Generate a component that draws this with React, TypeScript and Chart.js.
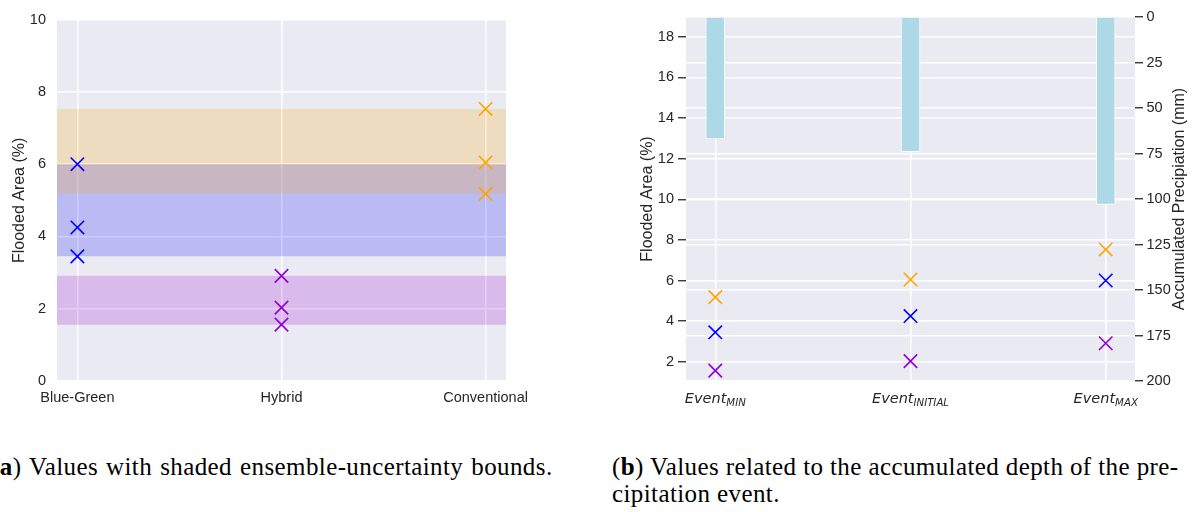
import React, { useEffect, useRef } from 'react';
import { Chart, registerables } from 'chart.js';

Chart.register(...registerables);

// ---------------- data ----------------
const designs = ['Blue-Green', 'Hybrid', 'Conventional'];
const eventSubs = ['MIN', 'INITIAL', 'MAX'];
// Flooded area (%) for Event MIN, Event INITIAL, Event MAX
const blueGreenArea = [3.45, 4.25, 6.0];
const hybridArea = [1.56, 2.03, 2.91];
const conventionalArea = [5.18, 6.05, 7.53];
// Accumulated precipitation (mm) for Event MIN, INITIAL, MAX
const precipitation = [67, 74, 103];

const ticksA = [0, 2, 4, 6, 8, 10];
const ticksBLeft = [2, 4, 6, 8, 10, 12, 14, 16, 18];
const ticksBRight = [0, 25, 50, 75, 100, 125, 150, 175, 200];

// ---------------- styles ----------------
const BG = '#EAEAF2';
const TXT = '#262626';
const SANS = '"Liberation Sans", Arial, sans-serif';
const C_BLUE = '#0000FF';
const C_PURPLE = '#9400D3';
const C_ORANGE = '#FFA500';
const tickFont = { family: SANS, size: 14.5 };
const titleFont = { family: SANS, size: 16 };

const A_XMIN = -0.1;
const A_XMAX = 2.1;

const series = [
  { values: blueGreenArea, color: C_BLUE, band: 'rgba(0,0,255,0.2)' },
  { values: hybridArea, color: C_PURPLE, band: 'rgba(148,0,211,0.2)' },
  { values: conventionalArea, color: C_ORANGE, band: 'rgba(255,165,0,0.2)' },
];

const bgPlugin = {
  id: 'plotBg',
  beforeDraw(chart: any) {
    const { ctx, chartArea: a } = chart;
    ctx.save();
    ctx.fillStyle = BG;
    ctx.fillRect(a.left, a.top, a.right - a.left, a.bottom - a.top);
    ctx.restore();
  },
};

const fixedTicks = (arr: number[]) => (s: any) => {
  s.ticks = arr.map((v) => ({ value: v }));
};

function configA(): any {
  const pointSets = series.map((s, i) => ({
    type: 'scatter',
    data: s.values.map((v) => ({ x: i, y: v })),
    borderColor: s.color,
    backgroundColor: s.color,
    pointStyle: 'crossRot',
    pointRadius: 9.5,
    pointHoverRadius: 9.5,
    pointBorderWidth: 1.6,
    showLine: false,
    order: 0,
  }));
  const bandSets = series.map((s, i) => {
    const lo = Math.min(...s.values);
    const hi = Math.max(...s.values);
    return {
      type: 'line',
      data: [
        { x: A_XMIN, y: hi },
        { x: A_XMAX, y: hi },
      ],
      borderWidth: 0,
      borderColor: 'rgba(0,0,0,0)',
      backgroundColor: s.band,
      pointRadius: 0,
      fill: { value: lo },
      order: i === 0 ? 3 : 2,
    };
  });
  return {
    type: 'scatter',
    data: { datasets: [...pointSets, ...bandSets] },
    options: {
      responsive: false,
      animation: false,
      events: [],
      layout: { padding: { top: 17, right: 84, bottom: 0, left: 0 } },
      plugins: { legend: { display: false }, tooltip: { enabled: false } },
      scales: {
        x: {
          type: 'linear',
          min: A_XMIN,
          max: A_XMAX,
          afterBuildTicks: fixedTicks([0, 1, 2]),
          afterFit: (s: any) => {
            s.height = 49;
          },
          ticks: {
            callback: (v: number) => designs[v] ?? '',
            font: tickFont,
            color: TXT,
            padding: 8,
            maxRotation: 0,
            autoSkip: false,
          },
          grid: { color: '#FFFFFF', lineWidth: 1.5, drawTicks: false },
          border: { display: false },
        },
        y: {
          type: 'linear',
          min: 0,
          max: 10,
          afterBuildTicks: fixedTicks(ticksA),
          afterFit: (s: any) => {
            s.width = 57;
          },
          ticks: { font: tickFont, color: TXT, padding: 11 },
          grid: { color: '#FFFFFF', lineWidth: 1.5, drawTicks: false },
          border: { display: false },
          title: {
            display: true,
            text: 'Flooded Area (%)',
            font: titleFont,
            color: TXT,
            padding: { top: 10, bottom: 0 },
          },
        },
      },
    },
    plugins: [bgPlugin],
  };
}

const eventLabelPlugin = {
  id: 'eventLabels',
  afterDraw(chart: any) {
    const { ctx, chartArea: a } = chart;
    const xs = chart.scales.x;
    const mainFont = 'italic 14.5px "DejaVu Sans"';
    const subFont = 'italic 10.2px "DejaVu Sans"';
    const base = a.bottom + 22.3;
    ctx.save();
    ctx.fillStyle = TXT;
    ctx.textAlign = 'left';
    ctx.textBaseline = 'alphabetic';
    eventSubs.forEach((sub, i) => {
      const cx = xs.getPixelForValue(i);
      ctx.font = mainFont;
      const w1 = ctx.measureText('Event').width;
      ctx.font = subFont;
      const w2 = ctx.measureText(sub).width;
      const x0 = cx - (w1 + w2) / 2;
      ctx.font = mainFont;
      ctx.fillText('Event', x0, base);
      ctx.font = subFont;
      ctx.fillText(sub, x0 + w1, base + 2.5);
    });
    // right axis title, reading bottom-to-top
    const y2 = chart.scales.y2;
    ctx.font = `16px ${SANS}`;
    ctx.textAlign = 'center';
    ctx.textBaseline = 'middle';
    ctx.translate(y2.right - 17, (a.top + a.bottom) / 2);
    ctx.rotate(-Math.PI / 2);
    ctx.fillText('Accumulated Precipiation (mm)', 0, 0);
    ctx.restore();
  },
};

function configB(): any {
  const pointSets = series.map((s) => ({
    type: 'scatter',
    data: s.values.map((v, i) => ({ x: i, y: v })),
    borderColor: s.color,
    backgroundColor: s.color,
    pointStyle: 'crossRot',
    pointRadius: 9.5,
    pointHoverRadius: 9.5,
    pointBorderWidth: 1.6,
    showLine: false,
    yAxisID: 'y',
    xAxisID: 'x',
    order: 0,
  }));
  const barSet = {
    type: 'bar',
    data: precipitation.map((p, i) => ({ x: i, y: p })),
    backgroundColor: '#ADD8E6',
    borderColor: '#FFFFFF',
    borderWidth: 1,
    barThickness: 19,
    xAxisID: 'x',
    yAxisID: 'y2',
    order: 5,
  };
  return {
    type: 'scatter',
    data: { datasets: [...pointSets, barSet] },
    options: {
      responsive: false,
      animation: false,
      events: [],
      layout: { padding: { top: 17, right: 0, bottom: 0, left: 0 } },
      plugins: { legend: { display: false }, tooltip: { enabled: false } },
      scales: {
        x: {
          type: 'linear',
          min: -0.15,
          max: 2.15,
          offset: false,
          afterBuildTicks: fixedTicks([0, 1, 2]),
          afterFit: (s: any) => {
            s.height = 49;
          },
          ticks: { display: false },
          grid: { color: '#FFFFFF', lineWidth: 1.5, drawTicks: false, offset: false },
          border: { display: false },
        },
        y: {
          type: 'linear',
          position: 'left',
          min: 1.05,
          max: 18.98,
          afterBuildTicks: fixedTicks(ticksBLeft),
          afterFit: (s: any) => {
            s.width = 86;
          },
          ticks: { font: tickFont, color: TXT, padding: 4 },
          grid: {
            color: '#FFFFFF',
            lineWidth: 1.5,
            drawTicks: true,
            tickLength: 8,
            tickColor: TXT,
            tickWidth: 1.3,
          },
          border: { display: false },
          title: {
            display: true,
            text: 'Flooded Area (%)',
            font: titleFont,
            color: TXT,
            padding: { top: 38, bottom: 0 },
          },
        },
        y2: {
          type: 'linear',
          position: 'right',
          min: 0,
          max: 200,
          reverse: true,
          afterBuildTicks: fixedTicks(ticksBRight),
          afterFit: (s: any) => {
            s.width = 62;
          },
          ticks: { font: tickFont, color: TXT, padding: 3.5 },
          grid: {
            color: '#FFFFFF',
            lineWidth: 1.5,
            drawTicks: true,
            tickLength: 8,
            tickColor: TXT,
            tickWidth: 1.3,
            drawOnChartArea: true,
          },
          border: { display: false },
        },
      },
    },
    plugins: [bgPlugin, eventLabelPlugin],
  };
}

function ChartCanvas(props: { make: () => any; left: number; top: number; width: number; height: number }) {
  const ref = useRef<HTMLCanvasElement>(null);
  useEffect(() => {
    const chart = new Chart(ref.current as HTMLCanvasElement, props.make());
    return () => chart.destroy();
  }, []);
  return (
    <canvas
      ref={ref}
      width={props.width}
      height={props.height}
      style={{
        position: 'absolute',
        left: props.left,
        top: props.top,
        width: props.width,
        height: props.height,
      }}
    />
  );
}

const captionStyle: React.CSSProperties = {
  position: 'absolute',
  top: 453,
  font: '25px "Liberation Serif", serif',
  letterSpacing: '0.4px',
  lineHeight: '27px',
  whiteSpace: 'nowrap',
  color: '#000',
};

export default function App() {
  return (
    <div
      style={{
        position: 'fixed',
        left: 0,
        top: 0,
        width: 1197,
        height: 512,
        background: '#FFFFFF',
        overflow: 'hidden',
      }}
    >
      <ChartCanvas make={configA} left={0} top={0} width={590} height={430} />
      <ChartCanvas make={configB} left={600} top={0} width={597} height={430} />
      <div style={{ ...captionStyle, left: -9, wordSpacing: '1.4px' }}>
        (<b>a</b>) Values with shaded ensemble-uncertainty bounds.
      </div>
      <div style={{ ...captionStyle, left: 612 }}>
        (<b>b</b>) Values related to the accumulated depth of the pre-
        <br />
        cipitation event.
      </div>
    </div>
  );
}
